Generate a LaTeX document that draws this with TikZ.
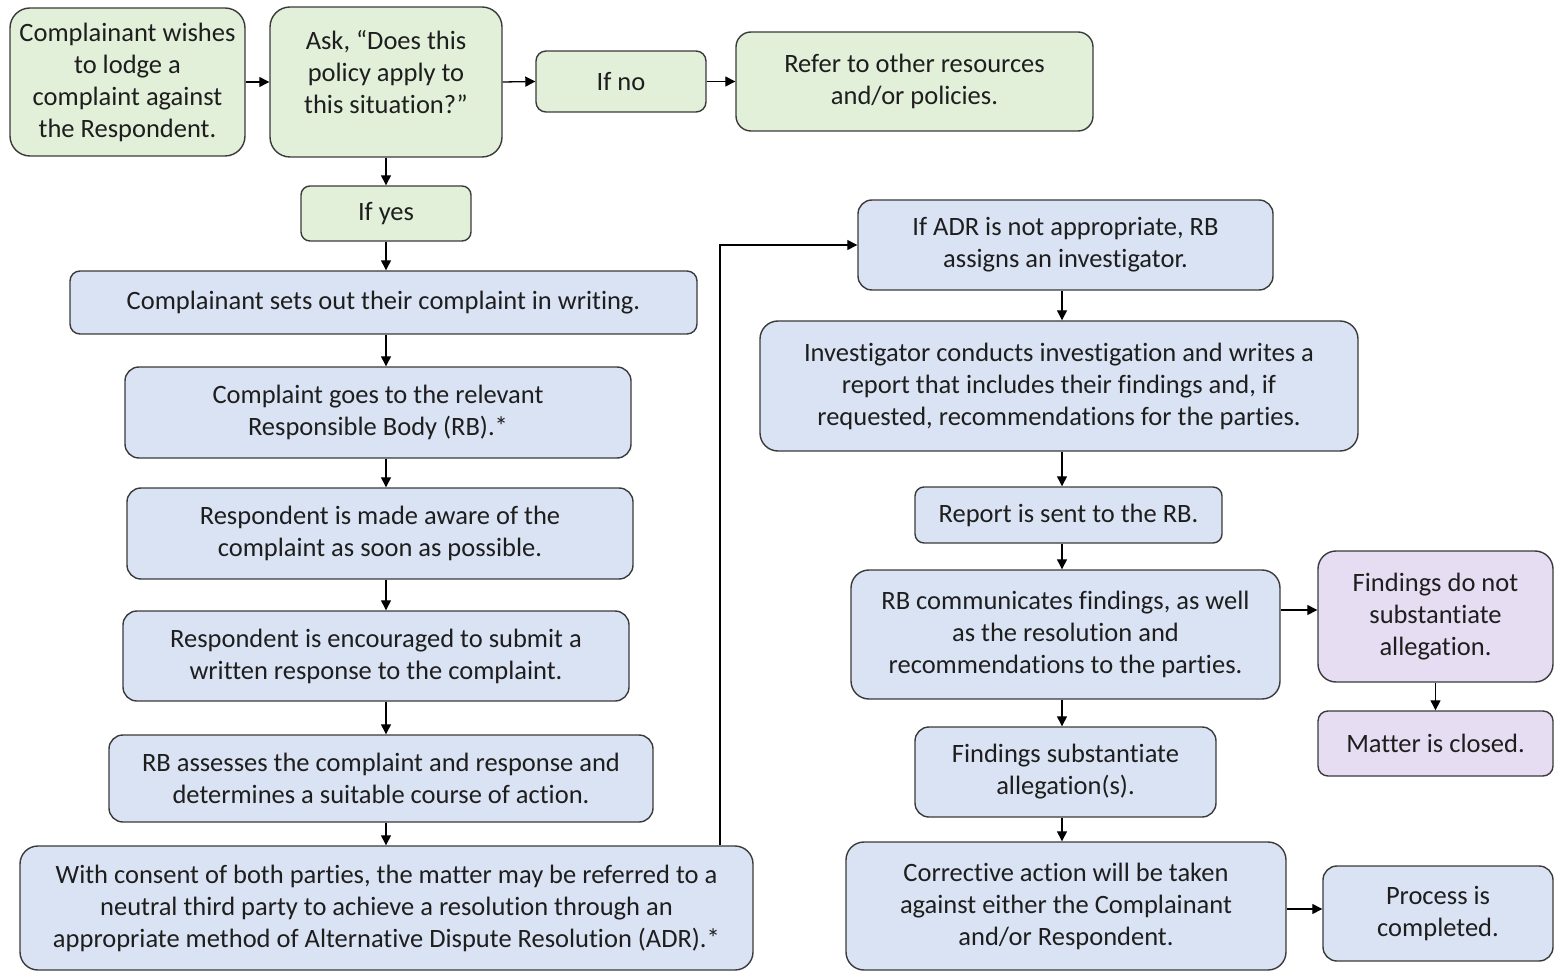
\documentclass[tikz,border=0pt]{standalone}
\usepackage{fontspec}
\setmainfont{Carlito}[Ligatures=NoCommon]
\usetikzlibrary{arrows.meta}
\definecolor{gfill}{HTML}{E2EFD9}
\definecolor{bfill}{HTML}{DAE3F3}
\definecolor{pfill}{HTML}{E6DDF2}
\definecolor{edge}{HTML}{3A3A3A}
\definecolor{txt}{HTML}{1E1E1E}
\tikzset{
  box/.style={draw=edge, line width=1.4pt, rounded corners=14pt, align=center,
    inner sep=0pt, text=txt, font=\fontsize{26.5}{32}\selectfont},
  gbox/.style={box, fill=gfill},
  bbox/.style={box, fill=bfill},
  pbox/.style={box, fill=pfill},
  arr/.style={draw=black, line width=1.3pt, -{Triangle[length=10pt,width=10pt]}}
}
\begin{document}
\begin{tikzpicture}[x=1pt,y=-1pt]
\useasboundingbox (0,0) rectangle (1555,973);
% top row
\node[gbox, minimum width=235pt, minimum height=148pt, rounded corners=20pt] (c1) at (127.5,82) {Complainant wishes\\to lodge a\\complaint against\\the Respondent.};
\node[gbox, minimum width=232pt, minimum height=150pt, rounded corners=20pt] (ask) at (386,82) {Ask, “Does this\\policy apply to\\this situation?”\\[-22pt]\strut};
\node[gbox, minimum width=170pt, minimum height=61pt, rounded corners=10pt] (ifno) at (621,81.5) {If no};
\node[gbox, minimum width=357pt, minimum height=99pt, rounded corners=15pt] (refer) at (914.5,81.5) {Refer to other resources\\and/or policies.};
\node[gbox, minimum width=170pt, minimum height=55pt, rounded corners=9pt] (ifyes) at (386,213.5) {If yes};
% left column
\node[bbox, minimum width=627pt, minimum height=63pt, rounded corners=10pt] (setsout) at (383.5,302.5) {Complainant sets out their complaint in writing.};
\node[bbox, minimum width=506pt, minimum height=91pt] (goes) at (378,412.5) {Complaint goes to the relevant\\Responsible Body (RB).*};
\node[bbox, minimum width=506pt, minimum height=91pt] (aware) at (380,533.5) {Respondent is made aware of the\\complaint as soon as possible.};
\node[bbox, minimum width=506pt, minimum height=90pt] (encour) at (376,656) {Respondent is encouraged to submit a\\written response to the complaint.};
\node[bbox, minimum width=544pt, minimum height=87pt] (assess) at (381,778.5) {RB assesses the complaint and response and\\determines a suitable course of action.};
\node[bbox, minimum width=733pt, minimum height=124pt, rounded corners=18pt] (consent) at (386.5,908) {With consent of both parties, the matter may be referred to a\\neutral third party to achieve a resolution through an\\appropriate method of Alternative Dispute Resolution (ADR).*};
% right column
\node[bbox, minimum width=415pt, minimum height=90pt] (ifadr) at (1065.5,245) {If ADR is not appropriate, RB\\assigns an investigator.};
\node[bbox, minimum width=598pt, minimum height=130pt, rounded corners=18pt] (invest) at (1059,386) {Investigator conducts investigation and writes a\\report that includes their findings and, if\\requested, recommendations for the parties.};
\node[bbox, minimum width=307pt, minimum height=56pt, rounded corners=9pt] (report) at (1068.5,515) {Report is sent to the RB.};
\node[bbox, minimum width=429pt, minimum height=129pt, rounded corners=18pt] (rbcomm) at (1065.5,634.5) {RB communicates findings, as well\\as the resolution and\\recommendations to the parties.};
\node[pbox, minimum width=235pt, minimum height=131pt, rounded corners=18pt] (fnot) at (1435.5,616.5) {Findings do not\\substantiate\\allegation.};
\node[pbox, minimum width=235pt, minimum height=65pt, rounded corners=10pt] (matter) at (1435.5,743.5) {Matter is closed.};
\node[bbox, minimum width=301pt, minimum height=90pt] (fsub) at (1065.5,772) {Findings substantiate\\allegation(s).};
\node[bbox, minimum width=440pt, minimum height=128pt, rounded corners=18pt] (correct) at (1066,906) {Corrective action will be taken\\against either the Complainant\\and/or Respondent.};
\node[bbox, minimum width=230pt, minimum height=95pt, rounded corners=14pt] (process) at (1438,913.5) {Process is\\completed.};
% connectors
\draw[arr] (c1.east) -- (ask.west);
\draw[arr] (ask.east) -- (ifno.west);
\draw[arr] (ifno.east) -- (refer.west);
\draw[arr] (ask.south) -- (ifyes.north);
\draw[arr] (ifyes.south) -- (setsout.north -| ifyes.south);
\draw[arr] (setsout.south -| ifyes.south) -- (goes.north -| ifyes.south);
\draw[arr] (goes.south -| ifyes.south) -- (aware.north -| ifyes.south);
\draw[arr] (aware.south -| ifyes.south) -- (encour.north -| ifyes.south);
\draw[arr] (encour.south -| ifyes.south) -- (assess.north -| ifyes.south);
\draw[arr] (assess.south -| ifyes.south) -- (consent.north -| ifyes.south);
\coordinate (bend) at (720,245);
\draw[arr] (consent.north -| bend) -- (bend) -- (ifadr.west);
\coordinate (rc) at (1062,0);
\draw[arr] (ifadr.south -| rc) -- (invest.north -| rc);
\draw[arr] (invest.south -| rc) -- (report.north -| rc);
\draw[arr] (report.south -| rc) -- (rbcomm.north -| rc);
\draw[arr] (rbcomm.south -| rc) -- (fsub.north -| rc);
\draw[arr] (fsub.south -| rc) -- (correct.north -| rc);
\draw[arr] (rbcomm.east |- 0,610) -- (fnot.west |- 0,610);
\draw[arr] (fnot.south) -- (matter.north);
\draw[arr] (correct.east |- 0,909) -- (process.west |- 0,909);
\end{tikzpicture}
\end{document}
